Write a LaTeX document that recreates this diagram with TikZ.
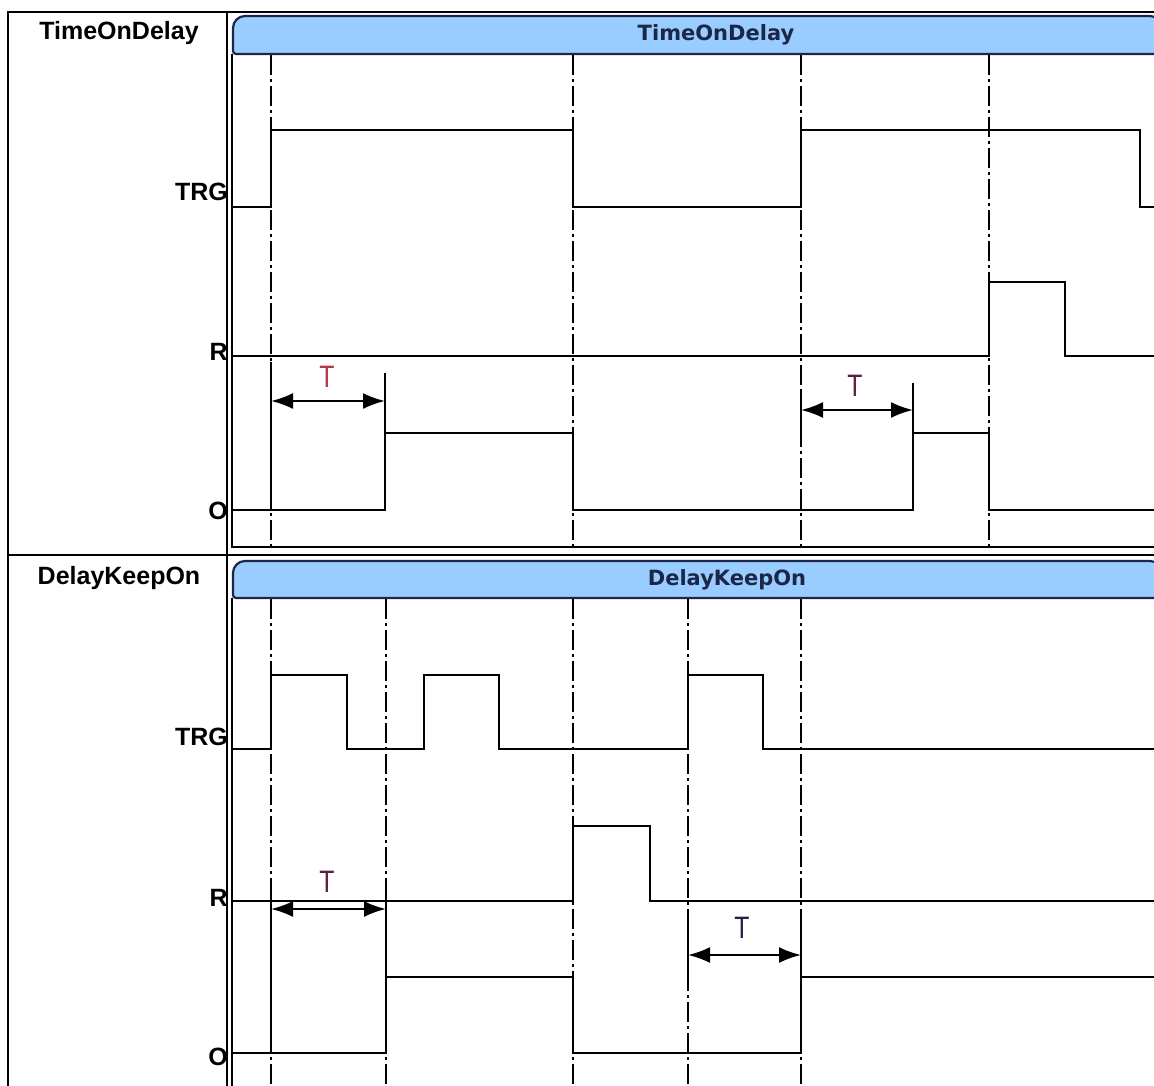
\documentclass[tikz,border=0pt]{standalone}
\usepackage{fontspec}
\setmainfont{Liberation Sans}
\newfontfamily\hdrfont{DejaVu Sans}
\usetikzlibrary{arrows.meta}
\definecolor{hdrblue}{HTML}{99CCFF}
\definecolor{hdrnavy}{HTML}{1C2648}
\definecolor{tred}{HTML}{B03848}
\definecolor{tplum}{HTML}{5A2040}
\definecolor{tnavy}{HTML}{22224C}
\tikzset{
  sig/.style={line width=2.2pt, line join=miter},
  guide/.style={line width=1.7pt, dash pattern=on 20pt off 4pt on 3pt off 4pt},
  ext/.style={line width=2pt},
  tarrow/.style={line width=2.2pt, {Latex[length=22pt,width=16pt]}-{Latex[length=22pt,width=16pt]}},
  tbl/.style={line width=2.8pt},
  frame/.style={line width=2.2pt},
  hdr/.style={fill=hdrblue, draw=hdrnavy, line width=2.2pt},
  hdrtext/.style={font=\hdrfont\bfseries\fontsize{21}{24}\selectfont, text=hdrnavy, inner sep=0pt},
  rowlab/.style={font=\bfseries\fontsize{25}{28}\selectfont, inner sep=0pt, anchor=base},
  siglab/.style={font=\bfseries\fontsize{25}{28}\selectfont, inner sep=0pt, anchor=east},
  tlab/.style={font=\fontsize{31}{33}\selectfont, inner sep=0pt, xscale=0.8},
}
\begin{document}
\begin{tikzpicture}[x=1pt,y=-1pt]
\useasboundingbox (0,0) rectangle (1154,1086);
\fill[white] (0,0) rectangle (1154,1086);

% ---------- table ----------
\draw[tbl] (8,1090) -- (8,12) -- (1160,12);
\draw[tbl] (227,12) -- (227,1090);
\draw[tbl] (8,555) -- (1160,555);

\node[rowlab] (rl1) at (119,40) {TimeOnDelay};
\node[rowlab] (rl2) at (119,584) {DelayKeepOn};

% ---------- top panel ----------
\draw[frame] (232,54) -- (232,547) -- (1160,547);
\path[hdr] (1162,54) -- (236,54) [rounded corners=3pt] -- (233,54) -- (233,30) [rounded corners=12pt] -- (233,16) -- (1162,16) [sharp corners] -- cycle;
\node[hdrtext] (h1) at (716,35) {TimeOnDelay};

\foreach \xx in {271,573,801,989} \draw[guide] (\xx,55) -- (\xx,547);

\draw[sig] (233,207) -- (271,207) -- (271,130) -- (573,130) -- (573,207) -- (801,207) -- (801,130) -- (1140,130) -- (1140,207) -- (1156,207);
\draw[sig] (233,356) -- (989,356) -- (989,282) -- (1065,282) -- (1065,356) -- (1156,356);
\draw[sig] (233,510) -- (385,510) -- (385,433) -- (573,433) -- (573,510) -- (913,510) -- (913,433) -- (989,433) -- (989,510) -- (1156,510);

\draw[ext] (271,362) -- (271,510);
\draw[ext] (385,373) -- (385,433);
\draw[ext] (801,390) -- (801,432);
\draw[ext] (913,383) -- (913,433);

\coordinate (a1l) at (271,401); \coordinate (a1r) at (385,401);
\coordinate (a2l) at (801,410); \coordinate (a2r) at (913,410);
\draw[tarrow] (a1l) -- (a1r);
\draw[tarrow] (a2l) -- (a2r);
\node[tlab, text=tred] (t1) at (327,377) {T};
\node[tlab, text=tplum] (t2) at (855,386) {T};

\node[siglab] (trg1) at (228,192) {TRG};
\node[siglab] (r1) at (228,352) {R};
\node[siglab] (o1) at (228,511) {O};

% ---------- bottom panel ----------
\draw[frame] (232,598) -- (232,1090);
\path[hdr] (1162,598) -- (236,598) [rounded corners=3pt] -- (233,598) -- (233,575) [rounded corners=12pt] -- (233,561) -- (1162,561) [sharp corners] -- cycle;
\node[hdrtext] (h2) at (727,580) {DelayKeepOn};

\foreach \xx in {271,386,573,688,801} \draw[guide] (\xx,599) -- (\xx,1090);

\draw[sig] (233,749) -- (271,749) -- (271,675) -- (347,675) -- (347,749) -- (424,749) -- (424,675) -- (499,675) -- (499,749) -- (688,749) -- (688,675) -- (763,675) -- (763,749) -- (1156,749);
\draw[sig] (233,901) -- (573,901) -- (573,826) -- (650,826) -- (650,901) -- (1156,901);
\draw[sig] (233,1053) -- (386,1053) -- (386,977) -- (573,977) -- (573,1053) -- (801,1053) -- (801,977) -- (1156,977);

\draw[ext] (271,896) -- (271,1053);
\draw[ext] (386,896) -- (386,977);
\draw[ext] (688,910) -- (688,987);
\draw[ext] (801,910) -- (801,977);

\coordinate (b1l) at (271,909); \coordinate (b1r) at (386,909);
\coordinate (b2l) at (688,955); \coordinate (b2r) at (801,955);
\draw[tarrow] (b1l) -- (b1r);
\draw[tarrow] (b2l) -- (b2r);
\node[tlab, text=tplum] (t3) at (327,882) {T};
\node[tlab, text=tnavy] (t4) at (742,928) {T};

\node[siglab] (trg2) at (228,737) {TRG};
\node[siglab] (r2) at (228,898) {R};
\node[siglab] (o2) at (228,1057) {O};
\end{tikzpicture}
\end{document}
